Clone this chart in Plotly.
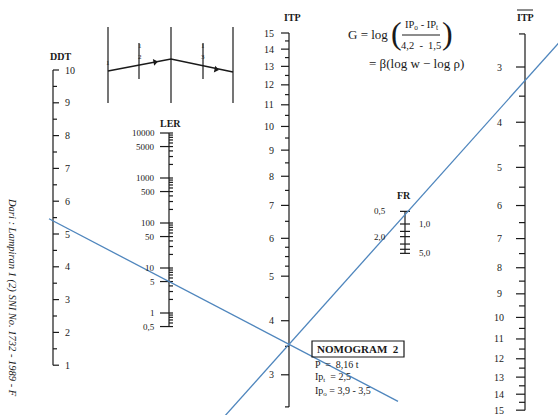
import numpy as np
import plotly.graph_objects as go

# Escalas del nomograma (valores y etiquetas)
ddt_major = [1, 2, 3, 4, 5, 6, 7, 8, 9, 10]
ddt_minor = [1.5, 2.5, 3.5, 4.5, 5.5, 6.5, 7.5, 8.5, 9.5]

ler_labels = [0.5, 1, 5, 10, 50, 100, 500, 1000, 5000, 10000]
ler_text = ['0,5', '1', '5', '10', '50', '100', '500', '1000', '5000', '10000']
ler_minor = [0.5, 0.6, 0.7, 0.8, 0.9,
             1, 2, 3, 4, 5, 6, 7, 8, 9,
             10, 20, 30, 40, 50, 60, 70, 80, 90,
             100, 200, 300, 400, 500, 600, 700, 800, 900,
             1000, 2000, 3000, 4000, 5000, 6000, 7000, 8000, 9000, 10000]

itp_major = [3, 4, 5, 6, 7, 8, 9, 10, 11, 12, 13, 14, 15]
itp_minor = [2.5, 3.5, 4.5, 5.25, 5.5, 5.75, 6.5, 7.5, 8.5, 9.5, 10.5,
             11.5, 12.5, 13.5, 14.5]

fr_ticks = [0.5, 1.0, 1.5, 2.0, 3.0, 4.0, 5.0]
fr_left = [0.5, 2.0]
fr_left_text = ['0,5', '2,0']
fr_right = [1.0, 5.0]
fr_right_text = ['1,0', '5,0']

itpb_major = [3, 4, 5, 6, 7, 8, 9, 10, 11, 12, 13, 14, 15]
itpb_minor = [2.5, 3.5, 4.5, 5.5, 6.5, 7.5, 8.5, 9.5, 10.5, 11.5, 12.5,
              13.5, 14.5]

# Lecturas del ejemplo
ddt_read = 5.4
ler_read = 5
fr_read = 0.6

# Posición de los ejes
X_DDT, X_LER, X_ITP, X_FR, X_ITPB = 53, 169, 289, 405, 525


def ddt_y(v):
    return 70 + 32.8 * (10 - v)


def ler_y(v):
    return 313 - 45 * np.log10(v)


def itp_y(v):
    return 33 + 583 * (np.log10(16.2) - np.log10(v + 1.2))


def fr_y(v):
    return 224 + 42 * np.log10(v)


def itpb_y(v):
    return 67 + 570 * np.log10((v + 1) / 4)


FONT = 'Liberation Serif'
INK = '#1a1a1a'
BLUE = '#4f86bd'

xs, ys = [], []


def seg(x0, y0, x1, y1):
    xs.extend([x0, x1, None])
    ys.extend([y0, y1, None])


def ticks(x, vals, fy, d0, d1):
    for v in vals:
        seg(x + d0, fy(v), x + d1, fy(v))


# DDT
seg(X_DDT, ddt_y(10), X_DDT, ddt_y(1))
ticks(X_DDT, ddt_major, ddt_y, 0, 6)
ticks(X_DDT, ddt_minor, ddt_y, 0, 4)

# LER
seg(X_LER, ler_y(10000), X_LER, ler_y(0.5))
ticks(X_LER, ler_labels, ler_y, -9, 0)
ticks(X_LER, ler_minor, ler_y, 0, 4)

# ITP
seg(X_ITP, itp_y(15), X_ITP, itp_y(2.5))
ticks(X_ITP, itp_major, itp_y, -8, 0)
ticks(X_ITP, itp_minor, itp_y, -4, 0)

# FR
seg(X_FR, fr_y(0.5), X_FR, fr_y(5))
ticks(X_FR, fr_ticks, fr_y, -5, 5)

# ITP barra
seg(X_ITPB, itpb_y(2.5), X_ITPB, itpb_y(15))
ticks(X_ITPB, itpb_major, itpb_y, -9, 0)
ticks(X_ITPB, itpb_minor, itpb_y, -6, 0)

# Diagrama superior
for xv in [108, 171, 233]:
    seg(xv, 27, xv, 103)
seg(139, 43, 139, 79)
seg(203, 43, 203, 79)

fig = go.Figure()

fig.add_trace(go.Scatter(
    x=xs, y=ys, mode='lines',
    line=dict(color=INK, width=1.2),
    hoverinfo='skip', showlegend=False
))

fig.add_trace(go.Scatter(
    x=[108, 171, 233], y=[71, 59, 72], mode='lines',
    line=dict(color=INK, width=1.6),
    hoverinfo='skip', showlegend=False
))
fig.add_trace(go.Scatter(
    x=[155, 216], y=[62, 69.5], mode='markers',
    marker=dict(symbol='triangle-right', size=6, color=INK,
                angle=[-11, 12]),
    hoverinfo='skip', showlegend=False
))

# Líneas de lectura (azul)
p1 = (X_DDT, ddt_y(ddt_read))
p2 = (X_LER, ler_y(ler_read))
m1 = (p2[1] - p1[1]) / (p2[0] - p1[0])
pivot = (X_ITP, p1[1] + m1 * (X_ITP - p1[0]))
x_end1 = 398
fig.add_trace(go.Scatter(
    x=[p1[0] - 4, x_end1],
    y=[p1[1] - 4 * m1, p1[1] + m1 * (x_end1 - p1[0])],
    mode='lines', line=dict(color=BLUE, width=1.3),
    hoverinfo='skip', showlegend=False
))

p3 = (X_FR, fr_y(fr_read))
m2 = (p3[1] - pivot[1]) / (p3[0] - pivot[0])
xa, xb = 200, 580
fig.add_trace(go.Scatter(
    x=[xa, xb],
    y=[pivot[1] + m2 * (xa - pivot[0]), pivot[1] + m2 * (xb - pivot[0])],
    mode='lines', line=dict(color=BLUE, width=1.3),
    hoverinfo='skip', showlegend=False
))

ann = []


def txt(x, y, s, size=10, xanchor='center', bold=False, italic=False,
        angle=0):
    if bold:
        s = '<b>' + s + '</b>'
    if italic:
        s = '<i>' + s + '</i>'
    ann.append(dict(x=x, y=y, text=s, showarrow=False, xanchor=xanchor,
                    yanchor='middle', textangle=angle,
                    font=dict(family=FONT, size=size, color=INK)))


# Títulos
txt(60, 56, 'DDT', 10, bold=True)
txt(170, 123, 'LER', 10, bold=True)
txt(292, 17, 'ITP', 10, bold=True)
txt(404, 195, 'FR', 10, bold=True)
txt(525, 17, 'ITP', 10, bold=True)

# Etiquetas
for v in ddt_major:
    txt(63, ddt_y(v), str(v), 10, xanchor='left')
for v, t in zip(ler_labels, ler_text):
    txt(157, ler_y(v), t, 9, xanchor='right')
for v in itp_major:
    txt(276, itp_y(v), str(v), 10, xanchor='right')
for v, t in zip(fr_left, fr_left_text):
    txt(388, fr_y(v), t, 9, xanchor='right')
for v, t in zip(fr_right, fr_right_text):
    txt(417, fr_y(v), t, 9, xanchor='left')
for v in itpb_major:
    txt(499, itpb_y(v), str(v), 10)

# Diagrama superior (números)
txt(108, 63, '1', 7)
txt(140, 46, '1', 7)
txt(140, 57, '2', 7)
txt(203, 46, '1', 7)
txt(203, 57, '3', 7)

# Fórmula
txt(346, 34, 'G = log', 13, xanchor='left')
txt(389, 33, '(', 32, xanchor='left')
txt(421, 25, 'IP<sub>o</sub> - IP<sub>t</sub>', 10.5)
txt(421, 45, '4,2  -  1,5', 10.5)
txt(440, 33, ')', 32, xanchor='left')
txt(367, 63, '= β(log w − log ρ)', 13, xanchor='left')

# Cuadro del nomograma
txt(358, 349, 'NOMOGRAM  2', 11, bold=True)
txt(313, 364, 'P  =  8,16 t', 10, xanchor='left')
txt(313, 377, 'Ip<sub>t</sub>  = 2,5', 10, xanchor='left')
txt(313, 391, 'Ip<sub>o</sub> = 3,9 - 3,5', 10, xanchor='left')

# Fuente
txt(12, 297, 'Dari : Lampiran 1 (2) SNI No. 1732 - 1989 - F', 10.5,
    italic=True, angle=90)

shapes = [
    dict(type='line', x0=402, x1=440, y0=35, y1=35,
         line=dict(color=INK, width=1)),
    dict(type='rect', x0=312, x1=404, y0=341, y1=357,
         line=dict(color=INK, width=1.2), fillcolor='rgba(0,0,0,0)'),
    dict(type='line', x0=517, x1=533, y0=10, y1=10,
         line=dict(color=INK, width=1)),
]

fig.update_layout(
    width=558, height=415,
    margin=dict(l=0, r=0, t=0, b=0),
    paper_bgcolor='white', plot_bgcolor='white',
    xaxis=dict(range=[0, 558], visible=False, fixedrange=True),
    yaxis=dict(range=[415, 0], visible=False, fixedrange=True),
    annotations=ann, shapes=shapes,
    showlegend=False
)

fig.write_html('out.html', config={'displayModeBar': False},
               post_script="document.body.style.margin='0';")
